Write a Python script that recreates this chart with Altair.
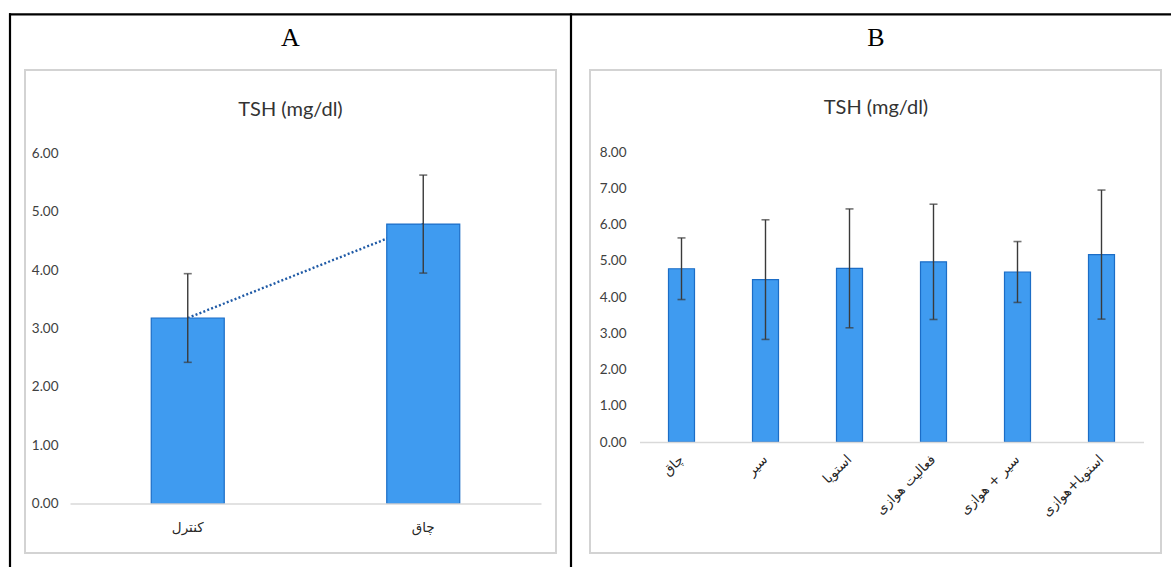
import altair as alt
import pandas as pd

# Panel A: control vs obese
groups_a = ["کنترل", "چاق"]
tsh_a = [3.18, 4.79]
sd_a = [0.76, 0.84]

# Panel B: obese group and the intervention groups
groups_b = ["چاق", "سیر", "استویا", "فعالیت هوازی", "سیر + هوازی", "استویا+هوازی"]
tsh_b = [4.78, 4.48, 4.79, 4.97, 4.69, 5.17]
sd_b = [0.85, 1.65, 1.64, 1.59, 0.84, 1.78]

ticks_a = [0, 1, 2, 3, 4, 5, 6]
ticks_b = [0, 1, 2, 3, 4, 5, 6, 7, 8]

W, H = 1171, 567

BAR_FILL = "#3f9bf0"
BAR_EDGE = "#1c6dc6"
ERR = "#3a3a3a"
TEXT = "#404040"
FRAME = "#d3d3d3"
NUM_FONT = "Lato"
FA_FONT = "DejaVu Sans"


def frame(a, b):
    return pd.DataFrame({"group": a, "tsh": b})


df_a = frame(groups_a, tsh_a)
df_a["lo"] = [m - s for m, s in zip(tsh_a, sd_a)]
df_a["hi"] = [m + s for m, s in zip(tsh_a, sd_a)]

df_b = frame(groups_b, tsh_b)
df_b["lo"] = [m - s for m, s in zip(tsh_b, sd_b)]
df_b["hi"] = [m + s for m, s in zip(tsh_b, sd_b)]

one = pd.DataFrame({"k": [0]})


def panel(df, cats, ticks, x_range, y_range, bar_w, y_axis_x, base_y, angle, trend):
    xs = alt.Scale(domain=cats, range=x_range, paddingInner=0, paddingOuter=0)
    ys = alt.Scale(domain=[ticks[0], ticks[-1]], range=y_range, nice=False)
    x_axis = alt.Axis(
        orient="bottom", offset=-(H - base_y), title=None, zindex=1,
        domain=True, domainColor="#d9d9d9", domainWidth=1.6,
        ticks=False, tickSize=0, grid=False,
        labelAngle=angle, labelPadding=17 if angle == 0 else 15,
        labelAlign="center" if angle == 0 else "right",
        labelBaseline="top" if angle == 0 else "middle",
        labelFont=FA_FONT, labelFontSize=13.5, labelColor="#262626",
    )
    y_axis = alt.Axis(
        orient="left", offset=-y_axis_x, title=None, values=ticks, format=".2f",
        zindex=1, domain=False, ticks=False, tickSize=0, grid=False, labelPadding=5,
        labelFont=NUM_FONT, labelFontSize=13.5, labelColor=TEXT,
    )
    base = alt.Chart(df)
    x = alt.X("group:N", scale=xs, axis=x_axis, sort=cats)
    layers = []
    if trend:
        layers.append(
            base.mark_line(color="#1f5aa6", strokeWidth=2.4, strokeDash=[2, 2.2])
            .encode(x=x, y=alt.Y("tsh:Q", scale=ys, axis=y_axis))
        )
    layers.append(
        base.mark_bar(width=bar_w, fill=BAR_FILL, stroke=BAR_EDGE, strokeWidth=1.2)
        .encode(x=x, y=alt.Y("tsh:Q", scale=ys, axis=y_axis))
    )
    layers.append(
        base.mark_rule(color=ERR, strokeWidth=1.4)
        .encode(x=x, y=alt.Y("lo:Q", scale=ys, axis=y_axis), y2="hi:Q")
    )
    layers.append(
        base.mark_tick(color=ERR, size=8, thickness=1.6)
        .encode(x=x, y=alt.Y("lo:Q", scale=ys, axis=y_axis))
    )
    layers.append(
        base.mark_tick(color=ERR, size=8, thickness=1.6)
        .encode(x=x, y=alt.Y("hi:Q", scale=ys, axis=y_axis))
    )
    return alt.layer(*layers)


panel_a = panel(df_a, groups_a, ticks_a, [70, 541], [503.5, 153.5], 73, 63, 503.5, 0, True)
panel_b = panel(df_b, groups_b, ticks_b, [639.5, 1143.5], [442, 152], 26, 631, 442, -45, False)

# Chart frames and the table rules around the two panels
frames = [
    alt.Chart(one).mark_rect(fill="white", stroke=FRAME, strokeWidth=2).encode(
        x=alt.value(25), x2=alt.value(556), y=alt.value(70), y2=alt.value(553)),
    alt.Chart(one).mark_rect(fill="white", stroke=FRAME, strokeWidth=2).encode(
        x=alt.value(590), x2=alt.value(1161), y=alt.value(70), y2=alt.value(553)),
]
rules = [
    alt.Chart(one).mark_rule(color="black", strokeWidth=2.2).encode(
        x=alt.value(9), x2=alt.value(W), y=alt.value(14.3)),
    alt.Chart(one).mark_rule(color="black", strokeWidth=2.2).encode(
        x=alt.value(10), y=alt.value(13.2), y2=alt.value(H)),
    alt.Chart(one).mark_rule(color="black", strokeWidth=2.2).encode(
        x=alt.value(571), y=alt.value(13.2), y2=alt.value(H)),
]
labels = [
    alt.Chart(one).mark_text(text="A", font="Liberation Serif", fontSize=26,
                             color="black", baseline="alphabetic").encode(
        x=alt.value(290.5), y=alt.value(46)),
    alt.Chart(one).mark_text(text="B", font="Liberation Serif", fontSize=26,
                             color="black", baseline="alphabetic").encode(
        x=alt.value(876), y=alt.value(46)),
    alt.Chart(one).mark_text(text="TSH (mg/dl)", font=NUM_FONT, fontSize=20,
                             color="#333333", baseline="middle").encode(
        x=alt.value(290.5), y=alt.value(110)),
    alt.Chart(one).mark_text(text="TSH (mg/dl)", font=NUM_FONT, fontSize=20,
                             color="#333333", baseline="middle").encode(
        x=alt.value(876), y=alt.value(108)),
]

chart = (
    alt.layer(*frames, *rules, panel_a, panel_b, *labels)
    .resolve_scale(x="independent", y="independent")
    .properties(width=W, height=H, padding=0,
                autosize=alt.AutoSizeParams(type="none"),
                background="white")
    .configure_view(stroke=None)
)

chart.save("out.html", embed_options={"renderer": "svg", "actions": False})
